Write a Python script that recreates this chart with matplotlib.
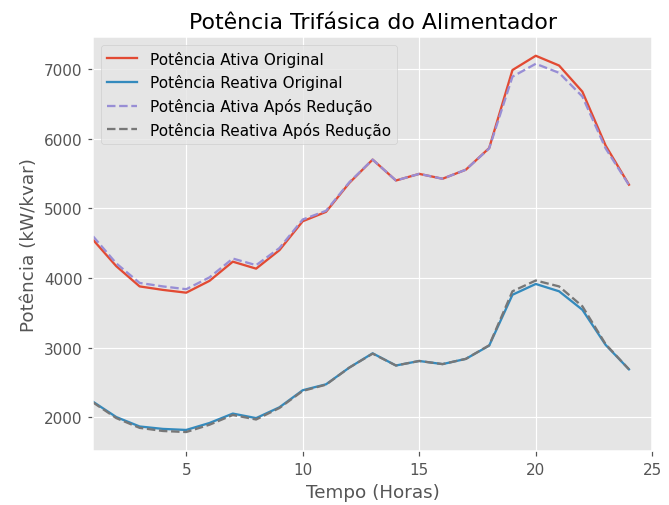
import matplotlib
matplotlib.use('Agg')
import matplotlib.pyplot as plt

plt.style.use('ggplot')

# horas do dia
horas = list(range(1, 25))

# potencias originais (kW / kvar)
p_ativa = [4550, 4170, 3880, 3830, 3790, 3960, 4235, 4135, 4400, 4815, 4950, 5365,
           5700, 5400, 5495, 5425, 5555, 5865, 6985, 7190, 7050, 6675, 5900, 5340]
p_reativa = [2225, 2005, 1870, 1835, 1820, 1920, 2055, 1990, 2145, 2390, 2475, 2715,
             2920, 2745, 2810, 2765, 2840, 3030, 3760, 3915, 3810, 3545, 3040, 2690]

# potencias apos reducao
p_ativa_red = [4600, 4210, 3930, 3880, 3840, 4010, 4280, 4185, 4430, 4840, 4965, 5375,
               5700, 5400, 5495, 5425, 5555, 5860, 6890, 7075, 6945, 6605, 5860, 5335]
p_reativa_red = [2215, 1990, 1850, 1805, 1790, 1895, 2035, 1970, 2135, 2380, 2470, 2715,
                 2915, 2745, 2810, 2765, 2840, 3035, 3810, 3965, 3880, 3595, 3050, 2690]

dpi = 110
fig, ax = plt.subplots(figsize=(669 / dpi, 506 / dpi), dpi=dpi)
fig.subplots_adjust(left=0.139, right=0.975, top=0.925, bottom=0.107)

ax.plot(horas, p_ativa, label='Potência Ativa Original')
ax.plot(horas, p_reativa, label='Potência Reativa Original')
ax.plot(horas, p_ativa_red, '--', label='Potência Ativa Após Redução')
ax.plot(horas, p_reativa_red, '--', label='Potência Reativa Após Redução')

ax.set_xlim(1, 25)
ax.set_title('Potência Trifásica do Alimentador')
ax.set_xlabel('Tempo (Horas)')
ax.set_ylabel('Potência (kW/kvar)')
ax.legend(loc='upper left')

fig.savefig('out.png', dpi=dpi)
